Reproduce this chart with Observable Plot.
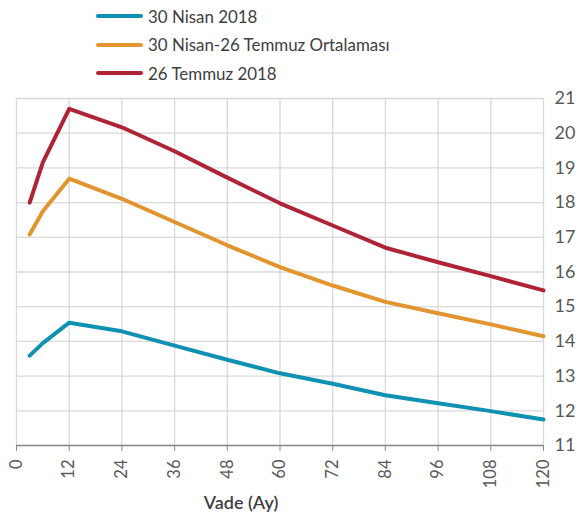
<!DOCTYPE html>
<html>
<head>
<meta charset="utf-8">
<script src="https://cdn.jsdelivr.net/npm/d3@7"></script>
<script src="https://cdn.jsdelivr.net/npm/@observablehq/plot@0.6"></script>
<style>
  html, body { margin: 0; padding: 0; background: #fff; }
  body { width: 586px; height: 525px; overflow: hidden; position: relative; font-family: Lato, "Noto Sans", sans-serif; }
  #legend { position: absolute; top: 0; left: 0; z-index: 2; box-sizing: border-box; padding-top: 2px; padding-left: 96px; }
  .row { height: 28.5px; display: flex; align-items: center; color: #404040; font-size: 16.9px; }
  .sw { width: 47px; height: 4px; border-radius: 2px; margin-right: 5px; }
  svg { display: block; }
</style>
</head>
<body>
<div id="legend"></div>
<div id="chart"></div>
<script>
const vade = [3, 6, 12, 24, 36, 48, 60, 72, 84, 96, 108, 120];
const nisan = [13.59, 13.95, 14.54, 14.29, 13.88, 13.47, 13.08, 12.78, 12.45, 12.22, 11.99, 11.75];
const ortalama = [17.08, 17.75, 18.69, 18.11, 17.44, 16.77, 16.14, 15.61, 15.14, 14.81, 14.49, 14.15];
const temmuz = [18.0, 19.16, 20.70, 20.17, 19.48, 18.72, 17.98, 17.34, 16.70, 16.28, 15.88, 15.47];
const seriesNames = ["30 Nisan 2018", "30 Nisan-26 Temmuz Ortalaması", "26 Temmuz 2018"];
const seriesColors = ["#0E91B2", "#E2952F", "#AE2336"];
const xTicks = [0, 12, 24, 36, 48, 60, 72, 84, 96, 108, 120];
const yTicks = [11, 12, 13, 14, 15, 16, 17, 18, 19, 20, 21];
const xLabel = "Vade (Ay)";

const seriesValues = [nisan, ortalama, temmuz];
const data = seriesValues.flatMap((vals, i) => vals.map((v, j) => ({x: vade[j], y: v, s: seriesNames[i]})));

const legend = document.getElementById("legend");
seriesNames.forEach((n, i) => {
  const r = document.createElement("div");
  r.className = "row";
  r.innerHTML = `<div class="sw" style="background:${seriesColors[i]}"></div><span>${n}</span>`;
  legend.appendChild(r);
});

const plot = Plot.plot({
  width: 586,
  height: 525,
  marginTop: 98,
  marginBottom: 80,
  marginLeft: 16,
  marginRight: 43,
  style: {fontFamily: "Lato, 'Noto Sans', sans-serif", color: "#595959", background: "#fff"},
  x: {domain: [0, 120], ticks: xTicks},
  y: {domain: [11, 21], ticks: yTicks},
  color: {domain: seriesNames, range: seriesColors},
  marks: [
    Plot.gridX(xTicks, {stroke: "#d9d9d9", strokeOpacity: 1, strokeWidth: 1.3}),
    Plot.gridY(yTicks, {stroke: "#d9d9d9", strokeOpacity: 1, strokeWidth: 1.3}),
    Plot.ruleY([11], {stroke: "#8c8c8c", strokeWidth: 1.3}),
    Plot.axisX(xTicks, {tickRotate: -90, tickSize: 6, tickPadding: 8, fontSize: 16.5, stroke: "#8c8c8c", fill: "#595959", label: null}),
    Plot.axisY(yTicks, {anchor: "right", tickSize: 0, tickPadding: 11, fontSize: 18, fill: "#595959", label: null}),
    Plot.line(data, {x: "x", y: "y", z: "s", stroke: "s", strokeWidth: 4, strokeLinejoin: "round", strokeLinecap: "round"}),
    Plot.text([xLabel], {frameAnchor: "bottom", dy: 63, dx: -39, fontSize: 18, fill: "#404040", fontWeight: 600})
  ]
});
document.getElementById("chart").appendChild(plot);
</script>
</body>
</html>
